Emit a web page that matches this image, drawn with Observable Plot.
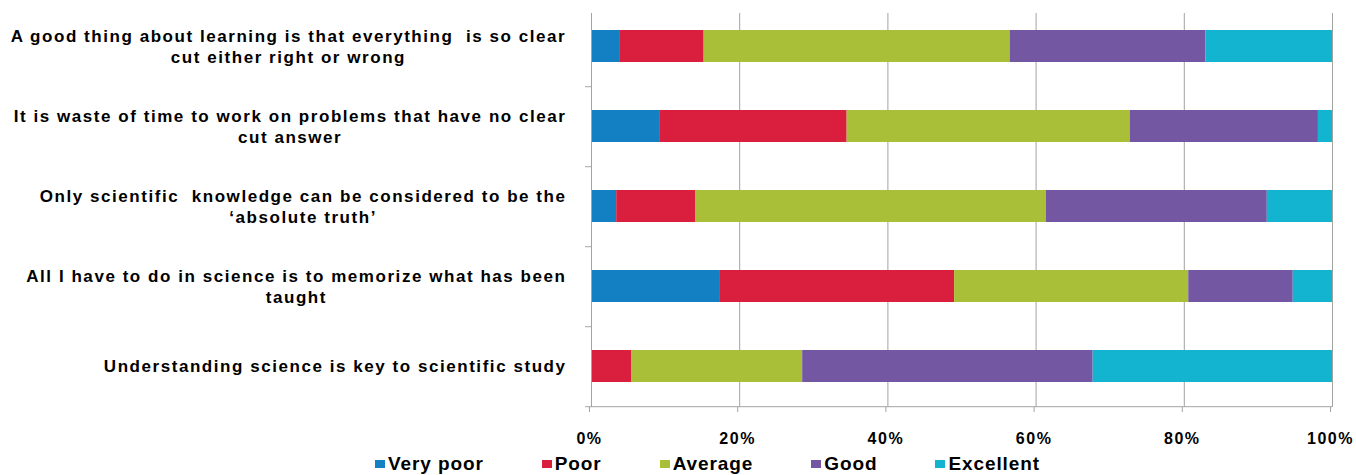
<!DOCTYPE html>
<html>
<head>
<meta charset="utf-8">
<script src="https://cdn.jsdelivr.net/npm/d3@7"></script>
<script src="https://cdn.jsdelivr.net/npm/@observablehq/plot@0.6"></script>
<style>
  body { margin: 0; background: #fff; font-family: "Liberation Sans", Arial, sans-serif; }
  #chart { width: 1356px; height: 475px; overflow: hidden; }
  .legend { display: flex; gap: 58px; padding-left: 375px; height: 24px; line-height: 22px;
            font-size: 19px; font-weight: bold; letter-spacing: 0.9px; color: #000; padding-top: 2px; }
  .legend span.item { display: flex; align-items: center; }
  .legend i { display: inline-block; width: 10px; height: 8px; margin-right: 3px; }
</style>
</head>
<body>
<div id="chart"></div>
<script>
// Survey statements (top to bottom) and the share of each rating, in percent
const categories = [
  "A good thing about learning is that everything  is so clear\ncut either right or wrong",
  "It is waste of time to work on problems that have no clear\ncut answer",
  "Only scientific  knowledge can be considered to be the\n\u2018absolute truth\u2019",
  "All I have to do in science is to memorize what has been\ntaught",
  "Understanding science is key to scientific study"
];
const seriesNames = ["Very poor", "Poor", "Average", "Good", "Excellent"];
const veryPoor  = [3.8, 9.2, 3.4, 17.4, 0];
const poor      = [11.4, 25.3, 10.7, 31.6, 5.4];
const average   = [41.3, 38.2, 47.3, 31.6, 23.1];
const good      = [26.4, 25.4, 29.8, 14.1, 39.2];
const excellent = [17.1, 1.9, 8.8, 5.3, 32.3];
const xTicks = [0, 20, 40, 60, 80, 100];
const colors = ["#1380c4", "#d91f3d", "#a9bf38", "#7357a3", "#13b4d0"];

const seriesValues = [veryPoor, poor, average, good, excellent];
const rows = [];
seriesNames.forEach((s, i) => {
  categories.forEach((c, j) => rows.push({category: c, rating: s, value: seriesValues[i][j]}));
});

const W = 1356, H = 450;
const marginLeft = 591, marginRight = 24, marginTop = 13, marginBottom = 43;
const yRange = [5, 407];
const step = (yRange[1] - yRange[0]) / categories.length;
const labelFont = 17, labelSpacing = 1.55, labelGap = 25;
const gridColor = "#a3a3a3";

// measure the widest line of each label so the lines can be centred on one another
const ctx = document.createElement("canvas").getContext("2d");
ctx.font = `bold ${labelFont}px "Liberation Sans", Arial, sans-serif`;
const labelWidth = (t) => d3.max(t.split("\n"), (l) => ctx.measureText(l).width + labelSpacing * l.length);

const labelMarks = categories.map((c) => Plot.text([c], {
  y: (d) => d,
  text: (d) => d,
  frameAnchor: "left",
  textAnchor: "middle",
  lineAnchor: "middle",
  lineHeight: 1.22,
  dx: -(labelGap + labelWidth(c) / 2),
  dy: -1,
  fontSize: labelFont,
  fontWeight: "bold",
  fill: "#000"
}));

const last = categories[categories.length - 1];

const plot = Plot.plot({
  width: W,
  height: H,
  marginLeft, marginRight, marginTop, marginBottom,
  style: {fontFamily: '"Liberation Sans", Arial, sans-serif', letterSpacing: `${labelSpacing}px`, background: "#fff"},
  x: {domain: [0, 100], axis: null, label: null},
  y: {domain: categories, range: yRange, paddingInner: 0.6, paddingOuter: 0.3, axis: null},
  color: {domain: seriesNames, range: colors},
  marks: [
    Plot.ruleX(xTicks.filter((d) => d > 0), {stroke: gridColor, strokeWidth: 1}),
    Plot.barX(rows, Plot.stackX({
      y: "category",
      x: "value",
      fill: "rating",
      order: seriesNames
    })),
    Plot.ruleX([0], {stroke: gridColor, strokeWidth: 1}),
    // category boundary ticks; the last one is the horizontal axis line
    Plot.ruleY(categories, {
      y: (d) => d,
      dy: step / 2,
      x1: -0.8,
      x2: (d) => (d === last ? 100 : 0),
      stroke: gridColor,
      strokeWidth: 1
    }),
    Plot.axisX(xTicks, {
      tickFormat: (d) => d + "%",
      label: null,
      tickSize: 5,
      tickPadding: 20,
      stroke: gridColor,
      fill: "#000",
      fontSize: 16,
      fontWeight: "bold",
      dx: -2
    }),
    ...labelMarks
  ]
});

const chart = document.getElementById("chart");
chart.appendChild(plot);

const legend = document.createElement("div");
legend.className = "legend";
seriesNames.forEach((s, i) => {
  const item = document.createElement("span");
  item.className = "item";
  const sw = document.createElement("i");
  sw.style.background = colors[i];
  item.appendChild(sw);
  item.appendChild(document.createTextNode(s));
  legend.appendChild(item);
});
chart.appendChild(legend);
</script>
</body>
</html>
